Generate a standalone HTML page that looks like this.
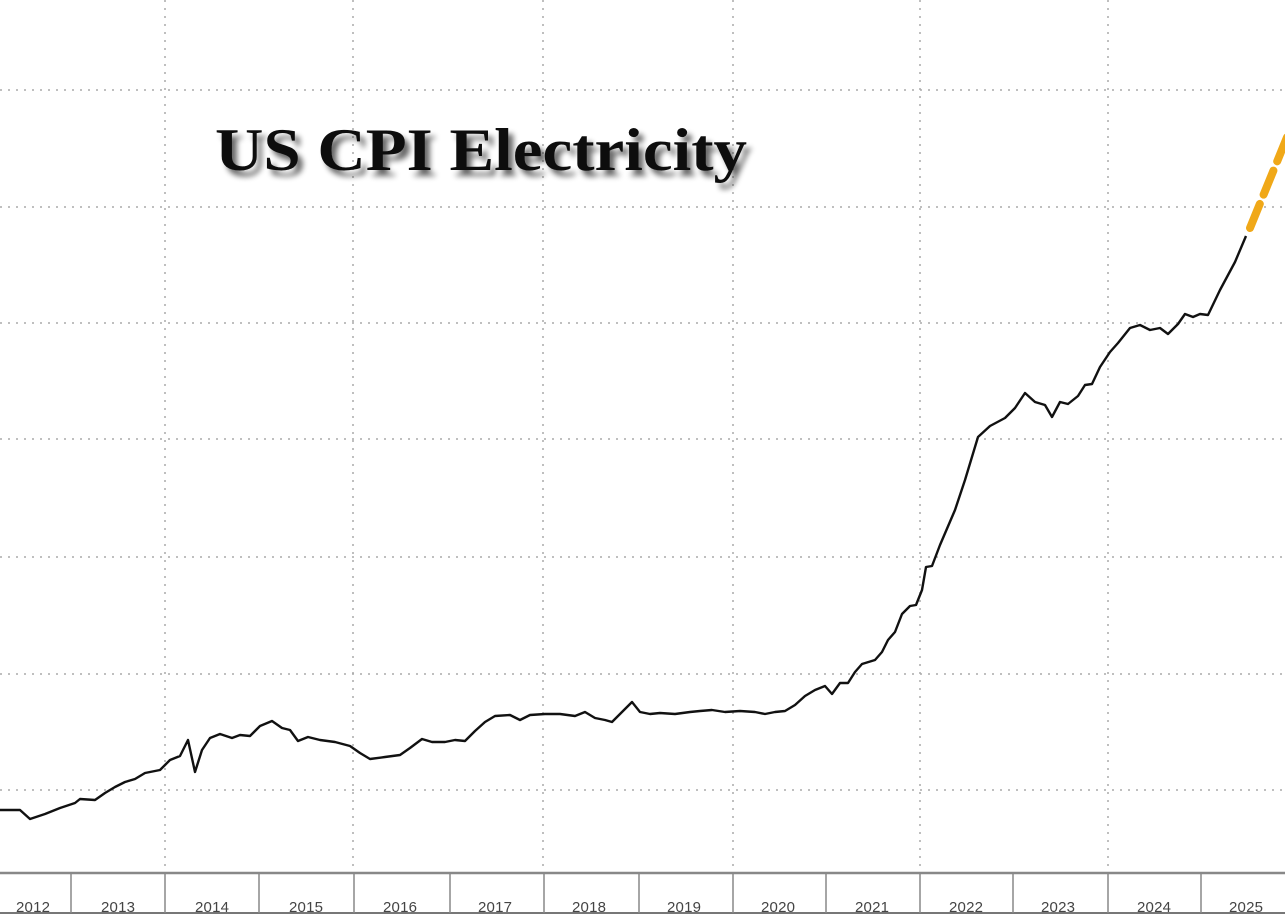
<!DOCTYPE html>
<html><head><meta charset="utf-8"><style>
html,body{margin:0;padding:0;background:#fff;width:1285px;height:918px;overflow:hidden}
svg{display:block}
</style></head><body>
<svg width="1285" height="918" viewBox="0 0 1285 918" xmlns="http://www.w3.org/2000/svg">
<defs><filter id="sh" x="-10%" y="-30%" width="130%" height="180%"><feGaussianBlur in="SourceAlpha" stdDeviation="3"/><feOffset dx="5" dy="6"/><feComponentTransfer><feFuncA type="linear" slope="0.6"/></feComponentTransfer><feMerge><feMergeNode/><feMergeNode in="SourceGraphic"/></feMerge></filter></defs>
<g stroke="#aaa" stroke-width="1.5" stroke-dasharray="2,6">
<line x1="0" y1="90" x2="1285" y2="90"/><line x1="0" y1="207" x2="1285" y2="207"/><line x1="0" y1="323" x2="1285" y2="323"/><line x1="0" y1="439" x2="1285" y2="439"/><line x1="0" y1="557" x2="1285" y2="557"/><line x1="0" y1="674" x2="1285" y2="674"/><line x1="0" y1="790" x2="1285" y2="790"/>
<line x1="165" y1="0" x2="165" y2="870"/><line x1="353" y1="0" x2="353" y2="870"/><line x1="543" y1="0" x2="543" y2="870"/><line x1="733" y1="0" x2="733" y2="870"/><line x1="920" y1="0" x2="920" y2="870"/><line x1="1108" y1="0" x2="1108" y2="870"/>
</g>
<line x1="0" y1="873" x2="1285" y2="873" stroke="#888" stroke-width="2.5"/>
<line x1="0" y1="913" x2="1285" y2="913" stroke="#777" stroke-width="2"/>
<g stroke="#888" stroke-width="1.5">
<line x1="71" y1="873" x2="71" y2="913"/><line x1="165" y1="873" x2="165" y2="913"/><line x1="259" y1="873" x2="259" y2="913"/><line x1="354" y1="873" x2="354" y2="913"/><line x1="450" y1="873" x2="450" y2="913"/><line x1="544" y1="873" x2="544" y2="913"/><line x1="639" y1="873" x2="639" y2="913"/><line x1="733" y1="873" x2="733" y2="913"/><line x1="826" y1="873" x2="826" y2="913"/><line x1="920" y1="873" x2="920" y2="913"/><line x1="1013" y1="873" x2="1013" y2="913"/><line x1="1108" y1="873" x2="1108" y2="913"/><line x1="1201" y1="873" x2="1201" y2="913"/>
</g>
<g font-family="Liberation Sans, sans-serif" font-size="15" fill="#444" text-anchor="middle">
<text x="33" y="912" textLength="34">2012</text><text x="118" y="912" textLength="34">2013</text><text x="212" y="912" textLength="34">2014</text><text x="306" y="912" textLength="34">2015</text><text x="400" y="912" textLength="34">2016</text><text x="495" y="912" textLength="34">2017</text><text x="589" y="912" textLength="34">2018</text><text x="684" y="912" textLength="34">2019</text><text x="778" y="912" textLength="34">2020</text><text x="872" y="912" textLength="34">2021</text><text x="966" y="912" textLength="34">2022</text><text x="1058" y="912" textLength="34">2023</text><text x="1154" y="912" textLength="34">2024</text><text x="1246" y="912" textLength="34">2025</text>
</g>
<text x="215" y="170" font-family="Liberation Serif, serif" font-weight="bold" font-size="60" fill="#111" textLength="532" lengthAdjust="spacingAndGlyphs" filter="url(#sh)">US CPI Electricity</text>
<polyline fill="none" stroke="#111" stroke-width="2.4" stroke-linejoin="round" points="0,810 20,810 30,819 45,814 60,808 75,803 80,799 95,800 105,793 115,787 125,782 135,779 145,773 160,770 170,760 180,756 188,740 195,772 202,750 210,738 220,734 232,738 240,735 250,736 260,726 272,721 282,728 290,730 298,741 308,737 320,740 335,742 350,746 360,753 370,759 385,757 400,755 410,748 422,739 432,742 445,742 455,740 465,741 475,731 485,722 495,716 510,715 520,720 530,715 545,714 560,714 575,716 585,712 595,718 605,720 612,722 620,714 632,702 640,712 650,714 660,713 675,714 690,712 700,711 712,710 725,712 740,711 755,712 765,714 775,712 785,711 795,705 805,696 815,690 825,686 832,694 840,683 848,683 855,672 862,664 875,660 882,652 888,640 895,632 902,614 910,606 916,605 922,590 926,567 932,566 940,545 955,510 965,480 978,437 990,426 1005,418 1015,408 1025,393 1035,402 1045,405 1052,417 1060,402 1068,404 1078,396 1085,385 1092,384 1100,367 1110,352 1118,343 1130,328 1140,325 1150,330 1160,328 1168,334 1178,324 1185,314 1193,317 1200,314 1208,315 1220,290 1235,262 1246,236"/>
<line x1="1250" y1="228" x2="1292" y2="125" stroke="#f0a818" stroke-width="8" stroke-dasharray="26,10" stroke-linecap="round"/>
</svg>
</body></html>
